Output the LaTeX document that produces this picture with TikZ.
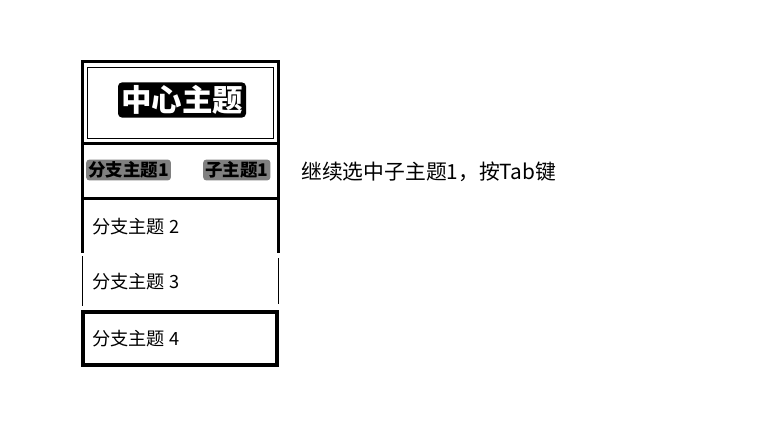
\documentclass[tikz,border=0pt]{standalone}
\usepackage{fontspec}
\setmainfont{Noto Sans CJK SC}
\usetikzlibrary{positioning}
\begin{document}
\begin{tikzpicture}[x=1pt,y=-1pt,
  thickbox/.style={draw=black,line width=3pt},
  thinbox/.style={draw=black,line width=0.8pt},
  rowtext/.style={anchor=west,font=\fontsize{18.2}{18}\selectfont,inner sep=0pt},
  shade/.style={fill=black!50,rounded corners=3pt,inner sep=2pt,anchor=west,font=\fontsize{17.5}{17}\selectfont\bfseries}
]
\useasboundingbox[fill=white] (0,0) rectangle (767,425);
% center box
\draw[thickbox] (82,62) rectangle (278,143);
\draw[thinbox] (87,67) rectangle (273,138);
\node[fill=black,text=white,rounded corners=4pt,inner sep=3pt,font=\fontsize{30.5}{30}\selectfont\bfseries] (center) at (182,100) {中心主题};
% row 1
\draw[thickbox] (82,143) rectangle (278,198);
\node[shade] (b1) at (86,170) {分支主题1};
\node[shade] (s1) at (203,170) {子主题1};
% row 2
\draw[thickbox] (82,198) -- (82,253);
\draw[thickbox] (278,198) -- (278,253);
\node[rowtext] (b2) at (92,227) {分支主题 2};
% row 3
\draw[thinbox] (82,256) -- (82,306);
\draw[thinbox] (278,258) -- (278,304);
\node[rowtext] (b3) at (92,282) {分支主题 3};
% row 4
\draw[draw=black,line width=4pt] (83,312) rectangle (277,365);
\node[rowtext] (b4) at (92,339) {分支主题 4};
% instruction
\node[anchor=west,inner sep=0pt,font=\fontsize{20.8}{21}\selectfont] (hint) at (301,172) {继续选中子主题1，按Tab键};
\end{tikzpicture}
\end{document}
